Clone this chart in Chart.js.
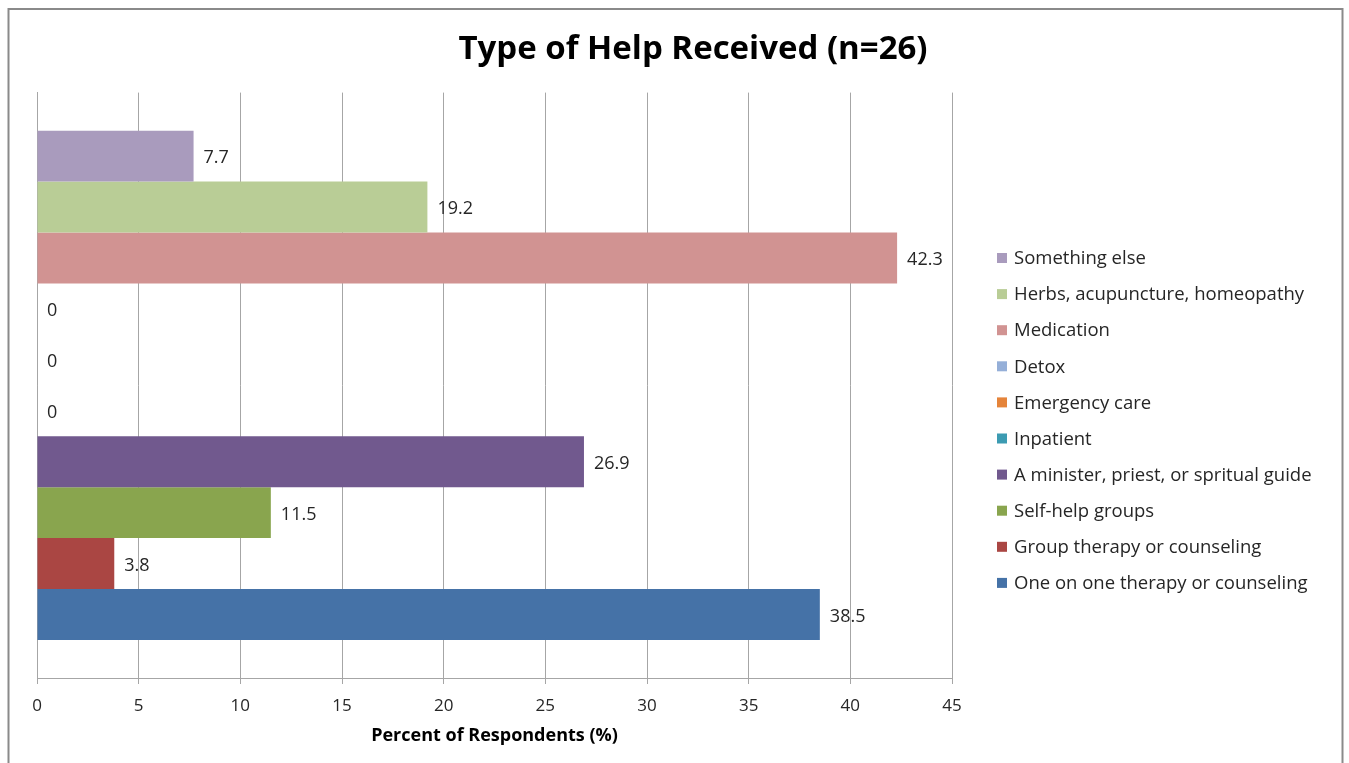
<!DOCTYPE html>
<html><head><meta charset="utf-8">
<script src="https://cdn.jsdelivr.net/npm/chart.js@4/dist/chart.umd.min.js"></script>
<style>html,body{margin:0;padding:0;background:#fff;overflow:hidden}#wrap{position:relative;width:1349px;height:763px}</style>
</head><body><div id="wrap"><canvas id="c" width="1349" height="763"></canvas></div>
<script>
const categories = [''];
const seriesNames = ['Something else','Herbs, acupuncture, homeopathy','Medication','Detox','Emergency care','Inpatient','A minister, priest, or spritual guide','Self-help groups','Group therapy or counseling','One on one therapy or counseling'];
const seriesValues = [7.7, 19.2, 42.3, 0, 0, 0, 26.9, 11.5, 3.8, 38.5];
const seriesColors = ['#A99BBD','#B9CD96','#D19392','#95AFD8','#E5843A','#3C9BB2','#71598E','#89A54E','#AA4643','#4572A7'];
const xTicks = [0, 5, 10, 15, 20, 25, 30, 35, 40, 45];
const titleText = 'Type of Help Received (n=26)';
const xTitle = 'Percent of Respondents (%)';

const FONT = '"Open Sans", "Noto Sans", sans-serif';
const TEXT = '#262626';
const GRID = '#A6A6A6';

const datasets = seriesNames.map((n, i) => ({
  label: n,
  data: [seriesValues[i]],
  backgroundColor: seriesColors[i],
  borderWidth: 0,
  categoryPercentage: 0.87,
  barPercentage: 1.0
}));

const frame = {
  id: 'frame',
  beforeDraw(chart) {
    const ctx = chart.ctx;
    ctx.save();
    ctx.fillStyle = '#fff';
    ctx.fillRect(0, 0, chart.width, chart.height);
    ctx.strokeStyle = '#8A8A8A';
    ctx.lineWidth = 2;
    ctx.strokeRect(8.5, 9, 1334, 800);
    ctx.restore();
  }
};

const valueLabels = {
  id: 'valueLabels',
  afterDatasetsDraw(chart) {
    const ctx = chart.ctx;
    ctx.save();
    ctx.font = '18px ' + FONT;
    ctx.fillStyle = TEXT;
    ctx.textAlign = 'left';
    ctx.textBaseline = 'middle';
    chart.data.datasets.forEach((ds, i) => {
      const el = chart.getDatasetMeta(i).data[0];
      ctx.fillText(String(ds.data[0]), el.x + 10, el.y + 2);
    });
    ctx.restore();
  }
};

const sideLegend = {
  id: 'sideLegend',
  afterDraw(chart) {
    const ctx = chart.ctx;
    const x0 = 997;
    const y0 = 259;
    const step = 36.1;
    ctx.save();
    ctx.font = '18.5px ' + FONT;
    ctx.textAlign = 'left';
    ctx.textBaseline = 'middle';
    chart.data.datasets.forEach((ds, i) => {
      const y = y0 + i * step;
      ctx.fillStyle = ds.backgroundColor;
      ctx.fillRect(x0, y - 6, 10, 10);
      ctx.fillStyle = TEXT;
      ctx.fillText(ds.label, x0 + 17, y);
    });
    ctx.restore();
  }
};

new Chart(document.getElementById('c'), {
  type: 'bar',
  data: { labels: categories, datasets },
  options: {
    indexAxis: 'y',
    responsive: false,
    animation: false,
    devicePixelRatio: 1,
    layout: { padding: { left: 37, right: 0, top: 0, bottom: 12 } },
    plugins: {
      legend: { display: false },
      tooltip: { enabled: false },
      title: {
        display: true,
        text: titleText,
        color: '#000',
        font: { family: FONT, size: 33, weight: 'bold' },
        padding: { top: 30, bottom: 23 }
      }
    },
    scales: {
      x: {
        type: 'linear',
        min: 0, max: 45,
        afterBuildTicks(s) { s.ticks = xTicks.map(v => ({ value: v })); },
        ticks: { color: TEXT, font: { family: FONT, size: 17 }, padding: 12 },
        grid: { color: GRID, lineWidth: 1, tickLength: 6, drawTicks: true },
        border: { color: GRID, width: 1 },
        title: { display: true, text: xTitle, color: '#000', font: { family: FONT, size: 18, weight: 'bold' }, padding: { top: -3, bottom: 4 } }
      },
      y: {
        type: 'category',
        ticks: { display: false },
        grid: { display: false, drawTicks: false },
        border: { color: GRID, width: 1 }
      },
      y2: {
        type: 'linear',
        position: 'right',
        display: true,
        ticks: { display: false },
        grid: { display: false, drawTicks: false },
        border: { display: false },
        afterFit(s) { s.width = 397; }
      }
    }
  },
  plugins: [frame, valueLabels, sideLegend]
});
</script></body></html>
